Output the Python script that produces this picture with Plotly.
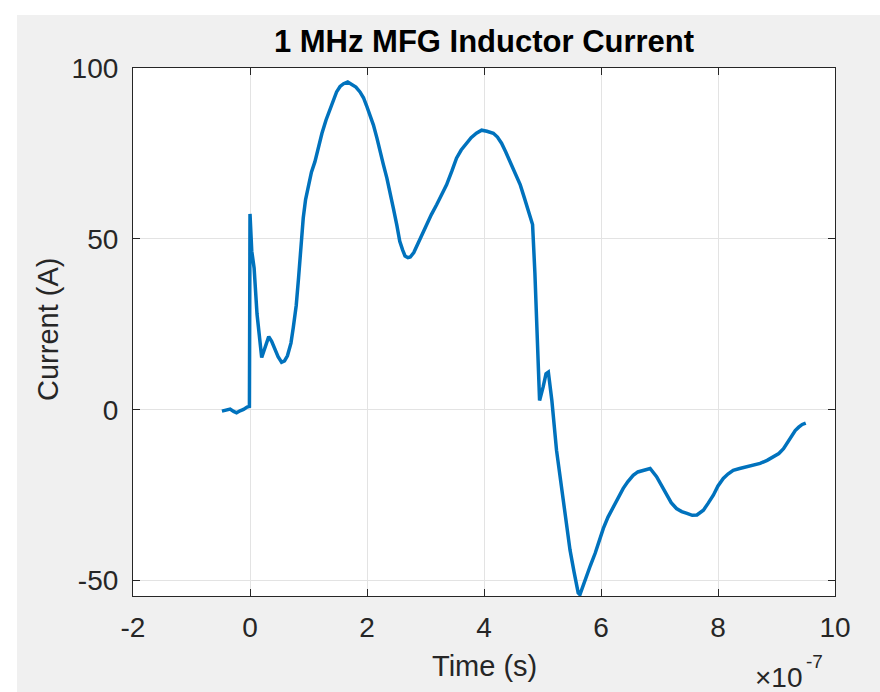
import plotly.graph_objects as go

# Time in units of 1e-7 s, current in A
time_e7 = [-0.48, -0.40, -0.34, -0.28, -0.23, -0.17, -0.11, -0.05, -0.01,
           0.0, 0.01, 0.03, 0.07, 0.12, 0.20, 0.26, 0.32, 0.37, 0.41, 0.48,
           0.54, 0.59, 0.64, 0.70, 0.74, 0.79, 0.83, 0.87, 0.91, 0.95, 1.00,
           1.05, 1.11, 1.17, 1.23, 1.30, 1.37, 1.42, 1.48, 1.54, 1.60, 1.67,
           1.74, 1.81, 1.88, 1.94, 1.99, 2.05, 2.11, 2.17, 2.22, 2.28, 2.34,
           2.40, 2.45, 2.51, 2.56, 2.61, 2.65, 2.70, 2.74, 2.80, 2.85, 2.93,
           3.02, 3.10, 3.19, 3.28, 3.36, 3.45, 3.53, 3.61, 3.70, 3.78, 3.87,
           3.96, 4.05, 4.16, 4.23, 4.30, 4.37, 4.44, 4.53, 4.62, 4.69, 4.76,
           4.83, 4.87, 4.90, 4.95, 5.01, 5.06, 5.10, 5.16, 5.24, 5.30, 5.36,
           5.42, 5.47, 5.54, 5.61, 5.64, 5.70, 5.75, 5.82, 5.90, 5.97, 6.04,
           6.12, 6.21, 6.30, 6.38, 6.46, 6.55, 6.63, 6.72, 6.84, 6.95, 7.03,
           7.12, 7.20, 7.29, 7.38, 7.47, 7.56, 7.64, 7.75, 7.83, 7.92, 8.00,
           8.09, 8.17, 8.26, 8.37, 8.49, 8.60, 8.72, 8.84, 8.95, 9.04, 9.12,
           9.19, 9.26, 9.32, 9.38, 9.44, 9.50]
current = [-0.4, -0.1, 0.2, -0.5, -0.9, -0.3, 0.1, 0.8, 1.0,
           57.3, 52.0, 46.4, 41.5, 28.0, 15.3, 18.5, 21.4, 20.0, 18.3, 15.5,
           13.9, 14.3, 15.8, 19.5, 24.1, 30.5, 38.6, 47.5, 56.1, 61.5, 65.8,
           69.5, 72.6, 76.8, 80.9, 84.8, 88.2, 90.8, 93.0, 94.6, 95.4, 95.9,
           95.1, 94.4, 93.0, 91.3, 89.1, 86.4, 83.3, 79.5, 75.5, 71.7, 67.8,
           63.4, 59.0, 54.0, 49.3, 46.7, 45.0, 44.5, 44.7, 46.0, 47.9, 50.9,
           54.2, 57.1, 60.0, 62.9, 65.8, 69.8, 73.6, 76.0, 78.0, 79.6, 80.9,
           81.8, 81.5, 80.9, 79.8, 78.0, 75.5, 72.6, 69.3, 65.8, 62.0, 58.1,
           54.2, 40.0, 25.0, 2.7, 6.6, 10.5, 11.0, 2.7, -11.9, -19.5, -26.5,
           -34.0, -41.0, -47.5, -53.6, -54.1, -51.0, -48.8, -45.5, -42.0, -38.2, -34.7,
           -31.4, -28.4, -25.6, -23.0, -21.0, -19.2, -18.2, -17.7, -17.2, -19.6, -22.2,
           -25.0, -27.2, -28.9, -29.8, -30.3, -30.9, -30.8, -29.4, -27.4, -25.0, -22.3,
           -20.1, -18.8, -17.7, -17.2, -16.7, -16.1, -15.7, -14.8, -13.8, -12.8, -11.4,
           -9.4, -7.5, -6.1, -5.1, -4.3, -3.9]

x_ticks = [-2, 0, 2, 4, 6, 8, 10]
y_ticks = [-50, 0, 50, 100]

title_text = "1 MHz MFG Inductor Current"
x_label = "Time (s)"
y_label = "Current (A)"
exp_base = "×10"
exp_power = "-7"

W, H = 880, 692
L, R, T, B = 133, 45, 68, 96

FONT = "Liberation Sans, Arial, Helvetica, sans-serif"
AX = "#262626"
GRID = "#e3e3e3"

fig = go.Figure()
fig.add_trace(go.Scatter(x=time_e7, y=current, mode="lines",
                         line=dict(color="#0072BD", width=3.5),
                         showlegend=False, hoverinfo="skip"))

axis_common = dict(showline=True, linecolor=AX, linewidth=1.2, mirror="ticks",
                   ticks="inside", ticklen=7, tickwidth=1.2, tickcolor=AX,
                   showgrid=True, gridcolor=GRID, gridwidth=1, zeroline=False,
                   tickfont=dict(family=FONT, size=28, color=AX))

fig.update_xaxes(range=[-2, 10], tickmode="array", tickvals=x_ticks,
                 ticktext=[str(v) for v in x_ticks], ticklabelstandoff=6,
                 **axis_common)
fig.update_yaxes(range=[-54.5, 100], tickmode="array", tickvals=y_ticks,
                 ticktext=[str(v) for v in y_ticks], ticklabelstandoff=8,
                 **axis_common)

pw = W - L - R
ph = H - T - B
def px_x(p):
    return (p - L) / pw
def px_y(p):
    return (H - B - p) / ph

fig.update_layout(
    width=W, height=H,
    margin=dict(l=L, r=R, t=T, b=B, pad=0),
    paper_bgcolor="#f0f0f0", plot_bgcolor="white",
    title=dict(text="<b>" + title_text + "</b>", x=px_x(484), xref="paper",
               y=1 - 41 / H, yref="container", xanchor="center", yanchor="middle",
               font=dict(family=FONT, size=31, color="black")),
    shapes=[
        dict(type="rect", xref="paper", yref="paper", x0=px_x(0), x1=px_x(W),
             y0=px_y(15), y1=px_y(0), fillcolor="white", line=dict(width=0), layer="below"),
        dict(type="rect", xref="paper", yref="paper", x0=px_x(0), x1=px_x(17),
             y0=px_y(H), y1=px_y(0), fillcolor="white", line=dict(width=0), layer="below"),
    ],
    annotations=[
        dict(text=x_label, xref="paper", yref="paper", x=px_x(484), y=px_y(666),
             xanchor="center", yanchor="middle", showarrow=False,
             font=dict(family=FONT, size=29, color=AX)),
        dict(text=y_label, xref="paper", yref="paper", x=px_x(48), y=px_y(330),
             xanchor="center", yanchor="middle", showarrow=False, textangle=-90,
             font=dict(family=FONT, size=29, color=AX)),
        dict(text=exp_base, xref="paper", yref="paper", x=px_x(805), y=px_y(677),
             xanchor="right", yanchor="middle", showarrow=False,
             font=dict(family=FONT, size=28, color=AX)),
        dict(text=exp_power, xref="paper", yref="paper", x=px_x(804), y=px_y(661),
             xanchor="left", yanchor="middle", showarrow=False,
             font=dict(family=FONT, size=19, color=AX)),
    ],
)

fig.write_html("out.html")
